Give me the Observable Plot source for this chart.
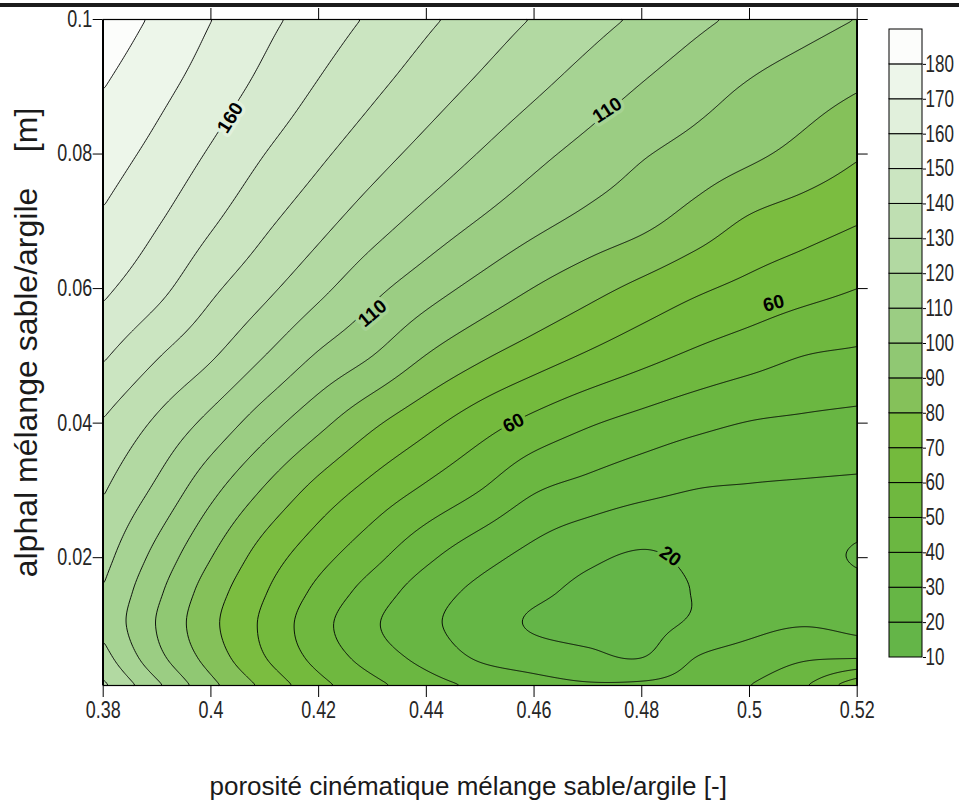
<!DOCTYPE html>
<html>
<head>
<meta charset="utf-8">
<script src="https://cdn.jsdelivr.net/npm/d3@7"></script>
<script src="https://cdn.jsdelivr.net/npm/@observablehq/plot@0.6"></script>
<style>
  html, body { margin: 0; padding: 0; background: #ffffff; }
  body { width: 959px; height: 809px; position: relative; overflow: hidden; font-family: "Liberation Sans", Arial, sans-serif; }
  #main { position: absolute; left: 0; top: 0; }
  #legend { position: absolute; left: 880px; top: 0; }
  #bar { position: absolute; left: 0; top: 3px; width: 959px; height: 4px; background: #1c1c1c; }
</style>
</head>
<body>
<div id="main"></div>
<div id="legend"></div>
<div id="bar"></div>
<script>
// ---- data ----
const xs = [0.38, 0.39, 0.40, 0.41, 0.42, 0.43, 0.44, 0.45, 0.46, 0.47, 0.48, 0.49, 0.50, 0.51, 0.52];
const ys = [0.001, 0.005, 0.01, 0.015, 0.02, 0.03, 0.04, 0.05, 0.06, 0.07, 0.08, 0.09, 0.1];
// one row per ys entry (bottom to top), one column per xs entry
const v001 = [132.0, 112.1, 92.9, 77.6, 63.3, 53.0, 44.4, 38.1, 33.8, 31.2, 32.0, 34.5, 40.0, 48.9, 68.0];
const v005 = [124.0, 103.4, 86.1, 70.5, 56.9, 45.9, 37.0, 29.0, 25.5, 22.5, 20.2, 30.3, 34.6, 39.0, 40.1];
const v010 = [118.0, 99.5, 82.5, 68.0, 53.6, 41.5, 32.3, 25.2, 19.0, 17.0, 17.5, 21.5, 27.0, 29.6, 27.4];
const v015 = [119.6, 102.1, 85.0, 70.7, 57.5, 45.7, 35.1, 27.6, 22.2, 18.0, 17.5, 20.3, 23.0, 24.0, 22.6];
const v020 = [123.3, 106.7, 90.2, 75.3, 63.4, 52.8, 41.9, 33.4, 26.9, 21.6, 19.0, 21.5, 23.0, 22.2, 19.4];
const v030 = [130.8, 117.9, 102.7, 88.9, 76.5, 66.6, 58.1, 50.0, 40.8, 36.4, 32.5, 29.8, 29.1, 28.5, 27.8];
const v040 = [139.3, 128.3, 116.9, 104.4, 92.8, 81.8, 72.8, 64.4, 57.1, 51.1, 46.6, 42.6, 39.6, 38.4, 37.3];
const v050 = [151.2, 140.7, 131.2, 120.0, 108.8, 100.0, 89.7, 81.6, 74.9, 68.8, 63.2, 58.2, 54.1, 50.0, 48.4];
const v060 = [161.9, 152.9, 142.0, 132.5, 122.6, 112.7, 104.4, 96.8, 89.7, 83.4, 77.4, 71.7, 67.3, 63.5, 60.0];
const v070 = [168.7, 160.8, 151.4, 142.0, 133.3, 124.5, 116.5, 109.4, 102.9, 97.4, 92.6, 85.9, 78.7, 74.6, 70.6];
const v080 = [174.6, 167.2, 158.9, 150.0, 141.9, 134.1, 126.6, 119.5, 112.7, 106.6, 100.9, 96.4, 92.0, 86.9, 81.1];
const v090 = [180.3, 172.9, 165.3, 157.3, 149.2, 141.9, 134.9, 128.2, 121.8, 115.6, 109.5, 104.1, 99.1, 94.9, 90.8];
const v100 = [186.3, 178.3, 170.2, 162.6, 155.4, 148.5, 141.8, 135.5, 129.4, 123.8, 118.1, 112.3, 107.6, 103.7, 99.8];
const rows = [v001, v005, v010, v015, v020, v030, v040, v050, v060, v070, v080, v090, v100];

const levels = [10, 20, 30, 40, 50, 60, 70, 80, 90, 100, 110, 120, 130, 140, 150, 160, 170, 180];
const bandColors = ["#64b548", "#66b645", "#68b643", "#6bb741", "#6fb83f", "#74ba3d", "#7bbd40",
  "#85c15a", "#90c873", "#9bcd83", "#a6d393", "#b2d9a2", "#bfdfb2", "#cbe5c1", "#d6eacf",
  "#e1f0dc", "#edf6ea", "#fcfdfb"];

const xTicks = [0.38, 0.4, 0.42, 0.44, 0.46, 0.48, 0.5, 0.52];
const xTopTicks = [0.4, 0.42, 0.44, 0.46, 0.48, 0.5, 0.52];
const yTicks = [0.02, 0.04, 0.06, 0.08, 0.1];

const labelX = [0.4036, 0.4300, 0.4736, 0.4562, 0.5045, 0.4853];
const labelY = [0.0854, 0.0563, 0.0865, 0.0400, 0.0578, 0.0202];
const labelText = ["160", "110", "110", "60", "60", "20"];
const labelAngle = [-58, -40, -33, -27, -15, 35];
const labelBand = [160, 110, 110, 60, 60, 20];

const xTitle = "porosité cinématique mélange sable/argile [-]";
const yTitle = "alphal mélange sable/argile    [m]";

// ---- build tables ----
const grid = [];
ys.forEach((y, j) => xs.forEach((x, i) => grid.push({x, y, v: rows[j][i]})));
const contourLabels = labelText.map((t, i) => ({x: labelX[i], y: labelY[i], t, a: labelAngle[i], b: labelBand[i]}));

// smooth (tensor cubic Hermite) interpolation of the rectilinear sample grid, used by Plot's contour
function cubicTable(t, P) {
  const n = t.length, m = new Float64Array(n);
  for (let k = 0; k < n; k++) {
    if (k === 0) m[k] = (P[1] - P[0]) / (t[1] - t[0]);
    else if (k === n - 1) m[k] = (P[n - 1] - P[n - 2]) / (t[n - 1] - t[n - 2]);
    else {
      const h0 = t[k] - t[k - 1], h1 = t[k + 1] - t[k];
      const d0 = (P[k] - P[k - 1]) / h0, d1 = (P[k + 1] - P[k]) / h1;
      m[k] = (h1 * d0 + h0 * d1) / (h0 + h1);
    }
  }
  return u => {
    if (u <= t[0]) u = t[0];
    if (u >= t[n - 1]) u = t[n - 1];
    let k = 0;
    while (k < n - 2 && u > t[k + 1]) k++;
    const h = t[k + 1] - t[k], s = (u - t[k]) / h, s2 = s * s, s3 = s2 * s;
    return (2 * s3 - 3 * s2 + 1) * P[k] + (s3 - 2 * s2 + s) * h * m[k] + (-2 * s3 + 3 * s2) * P[k + 1] + (s3 - s2) * h * m[k + 1];
  };
}
function gridCubic(index, width, height, X, Y, V) {
  const ux = Array.from(new Set(Array.from(index, i => X[i]))).sort((a, b) => a - b);
  const uy = Array.from(new Set(Array.from(index, i => Y[i]))).sort((a, b) => a - b);
  const G = uy.map(() => new Array(ux.length).fill(0));
  for (const i of index) G[uy.indexOf(Y[i])][ux.indexOf(X[i])] = V[i];
  const rowFns = G.map(r => cubicTable(ux, r));
  const out = new Float64Array(width * height);
  for (let px = 0; px < width; ++px) {
    const col = rowFns.map(f => f(px + 0.5));
    const fy = cubicTable(uy, col);
    for (let py = 0; py < height; ++py) out[px + py * width] = fy(py + 0.5);
  }
  return out;
}

const colorOpts = {type: "threshold", domain: levels.slice(1), range: bandColors};
const textColor = "#262626";
const contourBase = {x: "x", y: "y", value: "v", interpolate: gridCubic, thresholds: levels, pixelSize: 1, blur: 1};

const main = Plot.plot({
  width: 959, height: 809,
  marginLeft: 102.7, marginRight: 102.3, marginTop: 19, marginBottom: 124,
  x: {domain: [0.38, 0.52]},
  y: {domain: [0.001, 0.1]},
  color: colorOpts,
  style: {fontFamily: "'Liberation Sans', Arial, sans-serif", background: "transparent", color: "#000", overflow: "visible", whiteSpace: "pre"},
  marks: [
    Plot.contour(grid, {...contourBase, fill: "value", stroke: "none"}),
    Plot.contour(grid, {...contourBase, fill: "none", stroke: "#000", strokeWidth: 0.9}),
    Plot.text(contourLabels, {x: "x", y: "y", text: "t", rotate: "a", stroke: "b", strokeWidth: 7, fill: "#000", fontSize: 19, fontWeight: "bold", ariaLabel: "contour label"}),
    Plot.frame({stroke: "#000", strokeWidth: 1.2}),
    Plot.axisX({anchor: "bottom", ticks: xTicks, tickSize: 12, tickPadding: 4, tickFormat: d => String(d), fontSize: 23, label: null, color: textColor, stroke: "#000"}),
    Plot.axisX({anchor: "top", ticks: xTopTicks, tickSize: 12, tickFormat: () => "", label: null, stroke: "#000"}),
    Plot.axisY({anchor: "left", ticks: yTicks, tickSize: 10, tickPadding: 1, tickFormat: d => String(d), fontSize: 23, label: null, color: textColor, stroke: "#000"}),
    Plot.axisY({anchor: "right", ticks: yTicks, tickSize: 10, tickFormat: () => "", label: null, stroke: "#000"}),
    Plot.text([xTitle], {frameAnchor: "bottom", textAnchor: "middle", dy: 101, dx: -12, fontSize: 26, lineAnchor: "middle", fill: "#1a1a1a", ariaLabel: "x title"}),
    Plot.text([yTitle], {frameAnchor: "left", textAnchor: "middle", rotate: -90, dx: -76, dy: -10, fontSize: 32, lineAnchor: "middle", fill: "#1a1a1a", ariaLabel: "y title"})
  ]
});
document.getElementById("main").appendChild(main);

const legend = Plot.plot({
  width: 79, height: 809,
  marginLeft: 9, marginRight: 37, marginTop: 29, marginBottom: 152,
  x: {domain: [0, 1], axis: null},
  y: {domain: [10, 190]},
  color: colorOpts,
  style: {fontFamily: "'Liberation Sans', Arial, sans-serif", background: "transparent", color: "#000", overflow: "visible"},
  marks: [
    Plot.rect(levels, {x1: 0, x2: 1, y1: d => d, y2: d => d + 10, fill: d => d, stroke: "#000", strokeWidth: 1}),
    Plot.axisY({anchor: "right", ticks: levels, tickSize: 3, tickPadding: 0, tickFormat: d => String(d), fontSize: 23, label: null, color: textColor, stroke: "#000"})
  ]
});
document.getElementById("legend").appendChild(legend);

// narrow-looking numerals, as in the reference: squeeze each label along its baseline
function condense(svg, sel, k) {
  svg.querySelectorAll(sel).forEach(t => {
    const tr = t.getAttribute("transform") || "";
    t.setAttribute("transform", `${tr} scale(${k},1)`.trim());
  });
}
condense(main, 'g[aria-label$="tick label"] text', 0.78);
condense(legend, 'g[aria-label$="tick label"] text', 0.74);
condense(main, 'g[aria-label="contour label"] text', 0.85);
</script>
</body>
</html>
